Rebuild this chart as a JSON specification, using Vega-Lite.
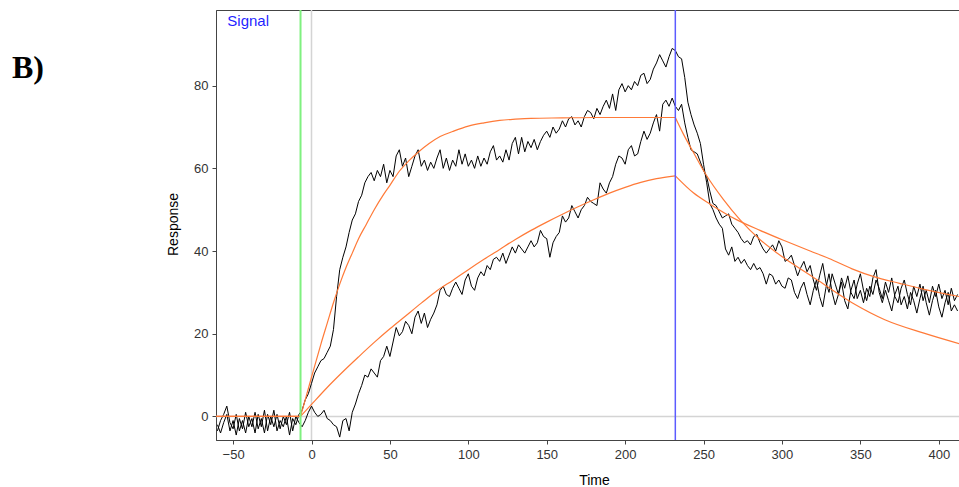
{
  "$schema": "https://vega.github.io/schema/vega-lite/v6.json",
  "width": 743,
  "height": 430,
  "autosize": {"type": "none"},
  "padding": {"left": 216, "top": 10, "right": 0, "bottom": 47},
  "background": "white",
  "title": {
    "text": "B)",
    "anchor": "start",
    "frame": "group",
    "orient": "top",
    "offset": 0,
    "dx": -204,
    "dy": 101,
    "baseline": "alphabetic",
    "font": "Liberation Serif",
    "fontSize": 32,
    "fontWeight": "bold",
    "color": "#000000"
  },
  "config": {
    "view": {"stroke": "#444444", "strokeWidth": 1},
    "axis": {
      "labelFont": "Liberation Sans",
      "labelFontSize": 13,
      "labelColor": "#333333",
      "titleFont": "Liberation Sans",
      "titleFontSize": 14,
      "titleFontWeight": "normal",
      "titleColor": "#000000",
      "domainColor": "#444444",
      "tickColor": "#444444",
      "tickSize": 4,
      "labelPadding": 4,
      "grid": false
    }
  },
  "datasets": {
    "traces": [
      {"t": -60, "a": -3.5, "b": -2.0}, {"t": -58, "a": -1.0, "b": -4.0}, {"t": -56, "a": 0.5, "b": -1.5},
      {"t": -54, "a": 2.5, "b": 0.5}, {"t": -52, "a": -1.5, "b": -3.5}, {"t": -50, "a": -3.0, "b": -1.0},
      {"t": -48, "a": 0.5, "b": -4.5}, {"t": -46, "a": -3.5, "b": -0.5}, {"t": -44, "a": -1.0, "b": -3.0},
      {"t": -42, "a": -4.0, "b": 1.0}, {"t": -40, "a": 0.0, "b": -2.5}, {"t": -38, "a": -2.5, "b": -0.5},
      {"t": -36, "a": 1.0, "b": -4.0}, {"t": -34, "a": -3.0, "b": 0.5}, {"t": -32, "a": -0.5, "b": -2.5},
      {"t": -30, "a": -4.0, "b": 1.5}, {"t": -28, "a": 0.5, "b": -3.5}, {"t": -26, "a": -2.0, "b": 0.0},
      {"t": -24, "a": 1.5, "b": -2.5}, {"t": -22, "a": -3.5, "b": 0.5}, {"t": -20, "a": -1.0, "b": -3.0},
      {"t": -18, "a": -2.5, "b": 0.0}, {"t": -16, "a": 0.0, "b": -2.0}, {"t": -14, "a": -4.5, "b": 1.0},
      {"t": -12, "a": -0.5, "b": -3.5}, {"t": -10, "a": -2.0, "b": 0.0}, {"t": -8, "a": 0.5, "b": -1.5},
      {"t": -6, "a": 1.5, "b": -2.5}, {"t": -4, "a": 4.0, "b": -1.0}, {"t": -2, "a": 5.5, "b": 1.0},
      {"t": 0, "a": 8.0, "b": 2.5}, {"t": 2, "a": 10.5, "b": 1.0}, {"t": 4, "a": 12.0, "b": 0.0},
      {"t": 6, "a": 13.5, "b": 0.5}, {"t": 8, "a": 14.0, "b": 1.5}, {"t": 10, "a": 15.5, "b": -0.5},
      {"t": 12, "a": 17.0, "b": -1.0}, {"t": 14, "a": 21.0, "b": -2.0}, {"t": 16, "a": 29.0, "b": -2.5},
      {"t": 18, "a": 35.5, "b": -5.0}, {"t": 20, "a": 38.5, "b": -1.0}, {"t": 22, "a": 41.0, "b": -0.5},
      {"t": 24, "a": 44.5, "b": -3.5}, {"t": 26, "a": 47.5, "b": 1.0}, {"t": 28, "a": 49.0, "b": 3.0},
      {"t": 30, "a": 52.0, "b": 5.5}, {"t": 32, "a": 53.5, "b": 7.5}, {"t": 34, "a": 56.5, "b": 10.0},
      {"t": 36, "a": 58.0, "b": 9.5}, {"t": 38, "a": 59.0, "b": 11.5}, {"t": 40, "a": 57.0, "b": 10.5},
      {"t": 42, "a": 59.5, "b": 9.5}, {"t": 44, "a": 58.0, "b": 13.5}, {"t": 46, "a": 61.0, "b": 14.5},
      {"t": 48, "a": 56.5, "b": 17.0}, {"t": 50, "a": 59.5, "b": 14.5}, {"t": 52, "a": 58.0, "b": 18.0},
      {"t": 54, "a": 63.0, "b": 21.5}, {"t": 56, "a": 64.5, "b": 19.5}, {"t": 58, "a": 60.5, "b": 20.5},
      {"t": 60, "a": 62.5, "b": 23.0}, {"t": 62, "a": 58.0, "b": 22.0}, {"t": 64, "a": 60.5, "b": 20.0},
      {"t": 66, "a": 63.0, "b": 24.0}, {"t": 68, "a": 64.5, "b": 25.5}, {"t": 70, "a": 60.5, "b": 22.5},
      {"t": 72, "a": 62.0, "b": 25.0}, {"t": 74, "a": 59.5, "b": 21.5}, {"t": 76, "a": 61.5, "b": 23.5},
      {"t": 78, "a": 60.0, "b": 25.0}, {"t": 80, "a": 62.5, "b": 27.0}, {"t": 82, "a": 64.5, "b": 30.5},
      {"t": 84, "a": 60.0, "b": 31.5}, {"t": 86, "a": 62.5, "b": 29.5}, {"t": 88, "a": 59.5, "b": 29.0},
      {"t": 90, "a": 62.0, "b": 31.0}, {"t": 92, "a": 60.5, "b": 32.5}, {"t": 94, "a": 64.5, "b": 31.0},
      {"t": 96, "a": 61.0, "b": 29.5}, {"t": 98, "a": 63.5, "b": 33.0}, {"t": 100, "a": 60.5, "b": 34.5},
      {"t": 102, "a": 62.0, "b": 31.5}, {"t": 104, "a": 60.0, "b": 30.5}, {"t": 106, "a": 63.0, "b": 33.5},
      {"t": 108, "a": 60.5, "b": 35.0}, {"t": 110, "a": 62.5, "b": 34.0}, {"t": 112, "a": 61.0, "b": 36.5},
      {"t": 114, "a": 64.0, "b": 35.5}, {"t": 116, "a": 65.5, "b": 38.0}, {"t": 118, "a": 62.0, "b": 38.5},
      {"t": 120, "a": 63.0, "b": 37.5}, {"t": 122, "a": 61.5, "b": 39.5}, {"t": 124, "a": 64.5, "b": 37.0},
      {"t": 126, "a": 62.0, "b": 39.0}, {"t": 128, "a": 66.0, "b": 41.0}, {"t": 130, "a": 67.5, "b": 39.5},
      {"t": 132, "a": 63.5, "b": 41.5}, {"t": 134, "a": 67.5, "b": 40.5}, {"t": 136, "a": 64.0, "b": 39.5},
      {"t": 138, "a": 66.5, "b": 41.0}, {"t": 140, "a": 65.0, "b": 42.5}, {"t": 142, "a": 67.0, "b": 41.0},
      {"t": 144, "a": 64.5, "b": 42.0}, {"t": 146, "a": 66.5, "b": 45.0}, {"t": 148, "a": 68.0, "b": 43.5},
      {"t": 150, "a": 69.0, "b": 43.0}, {"t": 152, "a": 67.5, "b": 38.5}, {"t": 154, "a": 70.0, "b": 42.0},
      {"t": 156, "a": 68.5, "b": 43.5}, {"t": 158, "a": 69.5, "b": 44.5}, {"t": 160, "a": 71.5, "b": 48.5},
      {"t": 162, "a": 70.0, "b": 47.0}, {"t": 164, "a": 72.0, "b": 48.0}, {"t": 166, "a": 72.5, "b": 51.0},
      {"t": 168, "a": 70.5, "b": 49.5}, {"t": 170, "a": 71.5, "b": 48.0}, {"t": 172, "a": 70.0, "b": 50.0},
      {"t": 174, "a": 72.5, "b": 51.0}, {"t": 176, "a": 74.0, "b": 53.0}, {"t": 178, "a": 73.5, "b": 52.0},
      {"t": 180, "a": 72.0, "b": 51.5}, {"t": 182, "a": 74.5, "b": 51.0}, {"t": 184, "a": 73.0, "b": 56.5},
      {"t": 186, "a": 75.0, "b": 55.0}, {"t": 188, "a": 76.5, "b": 54.0}, {"t": 190, "a": 74.5, "b": 56.5},
      {"t": 192, "a": 78.0, "b": 58.0}, {"t": 194, "a": 74.0, "b": 61.0}, {"t": 196, "a": 79.0, "b": 63.0},
      {"t": 198, "a": 80.5, "b": 62.5}, {"t": 200, "a": 78.5, "b": 61.0}, {"t": 202, "a": 80.0, "b": 64.5},
      {"t": 204, "a": 79.0, "b": 65.5}, {"t": 206, "a": 81.0, "b": 63.0}, {"t": 208, "a": 80.0, "b": 63.5},
      {"t": 210, "a": 82.5, "b": 66.5}, {"t": 212, "a": 83.0, "b": 69.0}, {"t": 214, "a": 80.5, "b": 67.0},
      {"t": 216, "a": 81.5, "b": 68.5}, {"t": 218, "a": 84.0, "b": 71.0}, {"t": 220, "a": 85.5, "b": 73.0},
      {"t": 222, "a": 87.5, "b": 69.0}, {"t": 224, "a": 86.0, "b": 75.5}, {"t": 226, "a": 84.5, "b": 76.5},
      {"t": 228, "a": 87.0, "b": 75.0}, {"t": 230, "a": 89.0, "b": 77.0}, {"t": 232, "a": 88.5, "b": 75.0},
      {"t": 234, "a": 87.0, "b": 74.0}, {"t": 236, "a": 86.5, "b": 75.5}, {"t": 238, "a": 82.0, "b": 71.0},
      {"t": 240, "a": 76.0, "b": 67.5}, {"t": 242, "a": 73.0, "b": 64.5}, {"t": 244, "a": 70.5, "b": 64.0},
      {"t": 246, "a": 68.5, "b": 63.5}, {"t": 248, "a": 66.0, "b": 61.5}, {"t": 250, "a": 61.0, "b": 59.5},
      {"t": 252, "a": 56.5, "b": 58.0}, {"t": 254, "a": 51.5, "b": 54.5}, {"t": 256, "a": 50.0, "b": 51.5},
      {"t": 258, "a": 48.0, "b": 51.0}, {"t": 260, "a": 46.5, "b": 49.5}, {"t": 262, "a": 45.5, "b": 48.0},
      {"t": 264, "a": 40.5, "b": 48.5}, {"t": 266, "a": 39.0, "b": 49.0}, {"t": 268, "a": 41.0, "b": 46.5},
      {"t": 270, "a": 37.5, "b": 45.5}, {"t": 272, "a": 38.5, "b": 44.5}, {"t": 274, "a": 37.0, "b": 43.0},
      {"t": 276, "a": 38.0, "b": 42.0}, {"t": 278, "a": 36.5, "b": 42.5}, {"t": 280, "a": 35.5, "b": 41.5},
      {"t": 282, "a": 37.0, "b": 43.5}, {"t": 284, "a": 35.5, "b": 44.0}, {"t": 286, "a": 36.0, "b": 42.0},
      {"t": 288, "a": 34.5, "b": 40.5}, {"t": 290, "a": 32.0, "b": 39.5}, {"t": 292, "a": 34.5, "b": 40.5},
      {"t": 294, "a": 34.0, "b": 41.5}, {"t": 296, "a": 32.0, "b": 40.0}, {"t": 298, "a": 33.0, "b": 42.5},
      {"t": 300, "a": 31.5, "b": 41.0}, {"t": 302, "a": 31.0, "b": 37.5}, {"t": 304, "a": 33.5, "b": 38.0},
      {"t": 306, "a": 33.0, "b": 39.0}, {"t": 308, "a": 30.0, "b": 36.5}, {"t": 310, "a": 28.5, "b": 34.0},
      {"t": 312, "a": 31.0, "b": 36.0}, {"t": 314, "a": 32.5, "b": 37.5}, {"t": 316, "a": 29.5, "b": 35.0},
      {"t": 318, "a": 27.0, "b": 36.5}, {"t": 320, "a": 30.5, "b": 33.0}, {"t": 322, "a": 33.0, "b": 30.5},
      {"t": 324, "a": 29.0, "b": 34.0}, {"t": 326, "a": 26.5, "b": 37.0}, {"t": 328, "a": 31.0, "b": 32.5},
      {"t": 330, "a": 34.5, "b": 30.0}, {"t": 332, "a": 30.0, "b": 34.5}, {"t": 334, "a": 27.0, "b": 32.0},
      {"t": 336, "a": 29.5, "b": 29.5}, {"t": 338, "a": 32.5, "b": 33.5}, {"t": 340, "a": 28.0, "b": 31.0},
      {"t": 342, "a": 26.0, "b": 34.0}, {"t": 344, "a": 30.5, "b": 30.0}, {"t": 346, "a": 33.0, "b": 28.5},
      {"t": 348, "a": 28.5, "b": 32.0}, {"t": 350, "a": 30.5, "b": 34.5}, {"t": 352, "a": 27.5, "b": 30.5},
      {"t": 354, "a": 31.0, "b": 28.0}, {"t": 356, "a": 29.0, "b": 31.5}, {"t": 358, "a": 33.5, "b": 29.5},
      {"t": 360, "a": 35.5, "b": 33.0}, {"t": 362, "a": 30.0, "b": 31.0}, {"t": 364, "a": 27.5, "b": 28.5},
      {"t": 366, "a": 30.5, "b": 32.5}, {"t": 368, "a": 28.0, "b": 30.0}, {"t": 370, "a": 25.5, "b": 33.5},
      {"t": 372, "a": 29.5, "b": 29.0}, {"t": 374, "a": 31.5, "b": 27.5}, {"t": 376, "a": 27.0, "b": 31.0},
      {"t": 378, "a": 29.0, "b": 33.0}, {"t": 380, "a": 26.0, "b": 29.5}, {"t": 382, "a": 30.0, "b": 27.0},
      {"t": 384, "a": 28.0, "b": 31.5}, {"t": 386, "a": 25.0, "b": 29.0}, {"t": 388, "a": 28.5, "b": 32.0},
      {"t": 390, "a": 31.5, "b": 28.0}, {"t": 392, "a": 27.5, "b": 30.5}, {"t": 394, "a": 24.5, "b": 27.5},
      {"t": 396, "a": 28.0, "b": 31.5}, {"t": 398, "a": 30.5, "b": 29.0}, {"t": 400, "a": 26.5, "b": 32.0},
      {"t": 402, "a": 24.0, "b": 28.5}, {"t": 404, "a": 27.5, "b": 30.5}, {"t": 406, "a": 30.0, "b": 27.0},
      {"t": 408, "a": 25.5, "b": 31.0}, {"t": 410, "a": 27.0, "b": 28.0}, {"t": 412, "a": 25.5, "b": 29.5}
    ],
    "fits": [
      {"run": "fast", "phase": "base", "t": -61, "r": 0}, {"run": "fast", "phase": "base", "t": -7, "r": 0},
      {"run": "fast", "phase": "on", "t": -7, "r": 0}, {"run": "fast", "phase": "on", "t": -4, "r": 4.0},
      {"run": "fast", "phase": "on", "t": 0, "r": 9.5}, {"run": "fast", "phase": "on", "t": 3, "r": 13.5},
      {"run": "fast", "phase": "on", "t": 6, "r": 17.5}, {"run": "fast", "phase": "on", "t": 10, "r": 22.5},
      {"run": "fast", "phase": "on", "t": 14, "r": 27.5}, {"run": "fast", "phase": "on", "t": 18, "r": 32.0},
      {"run": "fast", "phase": "on", "t": 22, "r": 36.0}, {"run": "fast", "phase": "on", "t": 26, "r": 39.5},
      {"run": "fast", "phase": "on", "t": 30, "r": 43.0}, {"run": "fast", "phase": "on", "t": 35, "r": 46.5},
      {"run": "fast", "phase": "on", "t": 40, "r": 50.0}, {"run": "fast", "phase": "on", "t": 46, "r": 53.7},
      {"run": "fast", "phase": "on", "t": 50, "r": 55.9}, {"run": "fast", "phase": "on", "t": 56, "r": 59.3},
      {"run": "fast", "phase": "on", "t": 62, "r": 61.8}, {"run": "fast", "phase": "on", "t": 68, "r": 63.9},
      {"run": "fast", "phase": "on", "t": 75, "r": 66.0}, {"run": "fast", "phase": "on", "t": 82, "r": 67.7},
      {"run": "fast", "phase": "on", "t": 90, "r": 68.9}, {"run": "fast", "phase": "on", "t": 100, "r": 70.2},
      {"run": "fast", "phase": "on", "t": 110, "r": 71.0}, {"run": "fast", "phase": "on", "t": 120, "r": 71.6},
      {"run": "fast", "phase": "on", "t": 130, "r": 71.9}, {"run": "fast", "phase": "on", "t": 140, "r": 72.1},
      {"run": "fast", "phase": "on", "t": 160, "r": 72.2}, {"run": "fast", "phase": "on", "t": 180, "r": 72.3},
      {"run": "fast", "phase": "on", "t": 232, "r": 72.3},
      {"run": "fast", "phase": "off", "t": 232, "r": 72.3}, {"run": "fast", "phase": "off", "t": 237, "r": 68.4},
      {"run": "fast", "phase": "off", "t": 243.5, "r": 63.9}, {"run": "fast", "phase": "off", "t": 252, "r": 58.2},
      {"run": "fast", "phase": "off", "t": 262.6, "r": 52.5}, {"run": "fast", "phase": "off", "t": 273.2, "r": 47.6},
      {"run": "fast", "phase": "off", "t": 285.9, "r": 42.8}, {"run": "fast", "phase": "off", "t": 296.6, "r": 39.6},
      {"run": "fast", "phase": "off", "t": 302.5, "r": 38.0}, {"run": "fast", "phase": "off", "t": 317.8, "r": 34.2},
      {"run": "fast", "phase": "off", "t": 323.4, "r": 32.8}, {"run": "fast", "phase": "off", "t": 344.7, "r": 27.5},
      {"run": "fast", "phase": "off", "t": 365.6, "r": 23.4}, {"run": "fast", "phase": "off", "t": 390, "r": 20.2},
      {"run": "fast", "phase": "off", "t": 413, "r": 17.6},
      {"run": "slow", "phase": "base", "t": -61, "r": 0}, {"run": "slow", "phase": "base", "t": -7, "r": 0},
      {"run": "slow", "phase": "on", "t": -7, "r": 0}, {"run": "slow", "phase": "on", "t": 0, "r": 2.9},
      {"run": "slow", "phase": "on", "t": 10, "r": 7.0}, {"run": "slow", "phase": "on", "t": 20, "r": 10.8},
      {"run": "slow", "phase": "on", "t": 30, "r": 14.4}, {"run": "slow", "phase": "on", "t": 40, "r": 17.9},
      {"run": "slow", "phase": "on", "t": 50, "r": 21.2}, {"run": "slow", "phase": "on", "t": 60, "r": 24.3},
      {"run": "slow", "phase": "on", "t": 70, "r": 27.4}, {"run": "slow", "phase": "on", "t": 80, "r": 30.4},
      {"run": "slow", "phase": "on", "t": 90, "r": 32.9}, {"run": "slow", "phase": "on", "t": 100, "r": 35.5},
      {"run": "slow", "phase": "on", "t": 110, "r": 38.0}, {"run": "slow", "phase": "on", "t": 120, "r": 40.4},
      {"run": "slow", "phase": "on", "t": 130, "r": 42.8}, {"run": "slow", "phase": "on", "t": 140, "r": 45.0},
      {"run": "slow", "phase": "on", "t": 150, "r": 47.0}, {"run": "slow", "phase": "on", "t": 160, "r": 48.9},
      {"run": "slow", "phase": "on", "t": 170, "r": 50.7}, {"run": "slow", "phase": "on", "t": 180, "r": 52.4},
      {"run": "slow", "phase": "on", "t": 190, "r": 54.0}, {"run": "slow", "phase": "on", "t": 200, "r": 55.4},
      {"run": "slow", "phase": "on", "t": 210, "r": 56.6}, {"run": "slow", "phase": "on", "t": 220, "r": 57.5},
      {"run": "slow", "phase": "on", "t": 232, "r": 58.2},
      {"run": "slow", "phase": "off", "t": 232, "r": 58.2}, {"run": "slow", "phase": "off", "t": 243.5, "r": 54.1},
      {"run": "slow", "phase": "off", "t": 254, "r": 51.4}, {"run": "slow", "phase": "off", "t": 271, "r": 47.6},
      {"run": "slow", "phase": "off", "t": 286, "r": 45.0}, {"run": "slow", "phase": "off", "t": 301, "r": 42.6},
      {"run": "slow", "phase": "off", "t": 318, "r": 40.0}, {"run": "slow", "phase": "off", "t": 330, "r": 38.2},
      {"run": "slow", "phase": "off", "t": 344.7, "r": 35.7}, {"run": "slow", "phase": "off", "t": 358.6, "r": 33.8},
      {"run": "slow", "phase": "off", "t": 375, "r": 32.2}, {"run": "slow", "phase": "off", "t": 390, "r": 30.8},
      {"run": "slow", "phase": "off", "t": 413, "r": 29.0}
    ]
  },
  "layer": [
    {
      "data": {"values": [{"t": 0}]},
      "mark": {"type": "rule", "color": "#d4d4d4", "strokeWidth": 1.5},
      "encoding": {
        "x": {"field": "t", "type": "quantitative", "title": "Time",
              "scale": {"domain": [-60.9, 412.9], "nice": false, "zero": false},
              "axis": {"values": [-50, 0, 50, 100, 150, 200, 250, 300, 350, 400], "titleX": 378, "titleY": 40, "titleBaseline": "middle", "titleAnchor": null}}
      }
    },
    {
      "data": {"values": [{"r": 0}]},
      "mark": {"type": "rule", "color": "#d4d4d4", "strokeWidth": 1.5},
      "encoding": {
        "y": {"field": "r", "type": "quantitative", "title": "Response",
              "scale": {"domain": [-5.7, 98.3], "nice": false, "zero": false},
              "axis": {"values": [0, 20, 40, 60, 80], "titleX": -43, "titleY": 214, "titleBaseline": "middle", "titleAlign": "center"}}
      }
    },
    {
      "data": {"name": "traces"},
      "transform": [{"fold": ["a", "b"], "as": ["run", "r"]}],
      "mark": {"type": "line", "color": "#000000", "strokeWidth": 1, "clip": true},
      "encoding": {
        "x": {"field": "t", "type": "quantitative", "title": "Time"},
        "y": {"field": "r", "type": "quantitative", "title": "Response"},
        "detail": {"field": "run", "type": "nominal"}
      }
    },
    {
      "data": {"name": "fits"},
      "mark": {"type": "line", "color": "#ff7a38", "strokeWidth": 1.2, "interpolate": "monotone", "clip": true},
      "encoding": {
        "x": {"field": "t", "type": "quantitative", "title": "Time"},
        "y": {"field": "r", "type": "quantitative", "title": "Response"},
        "detail": [{"field": "run", "type": "nominal"}, {"field": "phase", "type": "nominal"}]
      }
    },
    {
      "data": {"values": [{"t": -7}]},
      "mark": {"type": "rule", "color": "#7ff07f", "strokeWidth": 2},
      "encoding": {"x": {"field": "t", "type": "quantitative", "title": "Time"}}
    },
    {
      "data": {"values": [{"t": 232}]},
      "mark": {"type": "rule", "color": "#5c5cff", "strokeWidth": 1.5},
      "encoding": {"x": {"field": "t", "type": "quantitative", "title": "Time"}}
    },
    {
      "data": {"values": [{"label": "Signal"}]},
      "mark": {"type": "text", "color": "#1f1fff", "font": "Liberation Sans", "fontSize": 15, "align": "left", "baseline": "alphabetic"},
      "encoding": {
        "x": {"datum": -53.7, "type": "quantitative"},
        "y": {"datum": 94.5, "type": "quantitative"},
        "text": {"field": "label", "type": "nominal"}
      }
    }
  ]
}
